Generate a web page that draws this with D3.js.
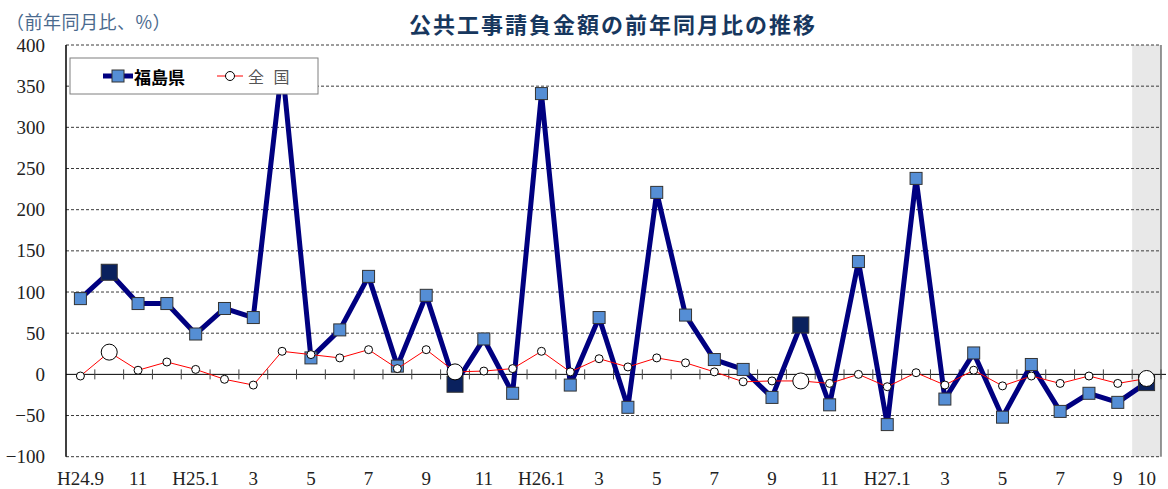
<!DOCTYPE html>
<html>
<head>
<meta charset="utf-8">
<script src="https://cdn.jsdelivr.net/npm/d3@7"></script>
<style>
  body { margin: 0; background: #fff; }
  svg { display: block; }
</style>
</head>
<body>
<div id="chart"></div>
<script>
// months H24.9 .. H27.10
let months = ["H24.9","10","11","12","H25.1","2","3","4","5","6","7","8","9","10","11","12",
              "H26.1","2","3","4","5","6","7","8","9","10","11","12",
              "H27.1","2","3","4","5","6","7","8","9","10"];

// 福島県
let fukushima = [92, 124, 86, 86, 49, 80, 69, 375, 20, 54, 119, 10, 96, -12, 43, -23,
                 341, -13, 69, -40, 221, 72, 18, 6, -28, 60, -37, 137,
                 -61, 238, -30, 26, -52, 12, -45, -23, -34, -10];

// 全国
let national = [-2, 27, 5, 15, 6, -6, -13, 28, 24, 20, 30, 7, 30, 3, 4, 7,
                28, 3, 19, 9, 20, 14, 3, -9, -8, -8, -11, 0,
                -15, 2, -13, 5, -14, -2, -11, -2, -11, -5];

let yTicks = [-100, -50, 0, 50, 100, 150, 200, 250, 300, 350, 400];

let width = 1168;
let height = 489;
let margin = {top: 45, bottom: 32.3, left: 66, right: 7};

let serif = "'Liberation Serif', 'DejaVu Serif', serif";
let cjk = "'Noto Sans CJK JP', 'Noto Sans', sans-serif";

let svg = d3.select("#chart")
    .append("svg")
    .attr("width", width)
    .attr("height", height);

let x = d3.scaleBand()
    .domain(d3.range(months.length))
    .range([margin.left, width - margin.right])
    .padding(0);

let y = d3.scaleLinear()
    .domain([-100, 400])
    .range([height - margin.bottom, margin.top]);

let cx = i => x(i) + x.bandwidth() / 2;
let isOct = i => months[i] === "10";

// shaded latest month
let last = months.length - 1;
svg.append("rect")
    .attr("x", x(last))
    .attr("y", y(400))
    .attr("width", x.bandwidth())
    .attr("height", y(-100) - y(400))
    .attr("fill", "#e8e8e8");

// gridlines
svg.append("g")
    .selectAll("line")
    .data(yTicks.filter(d => d !== 0))
    .join("line")
        .attr("x1", margin.left)
        .attr("x2", width - margin.right)
        .attr("y1", d => y(d))
        .attr("y2", d => y(d))
        .attr("stroke", "#3a3a3a")
        .attr("stroke-width", 1)
        .attr("stroke-dasharray", "3,2");

// plot borders
svg.append("line")
    .attr("x1", margin.left).attr("x2", margin.left)
    .attr("y1", y(400)).attr("y2", y(-100))
    .attr("stroke", "#000").attr("stroke-width", 1.5);
svg.append("line")
    .attr("x1", width - margin.right).attr("x2", width - margin.right)
    .attr("y1", y(400)).attr("y2", y(-100))
    .attr("stroke", "#555").attr("stroke-width", 1.2);

// zero line with month ticks
svg.append("line")
    .attr("x1", margin.left).attr("x2", width - 2)
    .attr("y1", y(0)).attr("y2", y(0))
    .attr("stroke", "#000").attr("stroke-width", 1);

svg.append("g")
    .selectAll("line")
    .data(d3.range(1, months.length + 1))
    .join("line")
        .attr("x1", i => i < months.length ? x(i) : width - margin.right)
        .attr("x2", i => i < months.length ? x(i) : width - margin.right)
        .attr("y1", y(0) - 5)
        .attr("y2", y(0) + 5)
        .attr("stroke", "#444")
        .attr("stroke-width", 1);

// y axis labels
svg.append("g")
    .attr("transform", `translate(${margin.left}, 0)`)
    .call(d3.axisLeft(y).tickValues(yTicks).tickSize(0).tickPadding(21))
    .call(g => g.select(".domain").remove())
    .selectAll("text")
        .attr("font-family", serif)
        .attr("font-size", "19px")
        .attr("fill", "#222");

// x axis labels
let shown = d3.range(months.length).filter(i => i % 2 === 0 || i === last);
svg.append("g")
    .attr("transform", `translate(0, ${y(-100)})`)
    .call(d3.axisBottom(x).tickValues(shown).tickFormat(i => months[i]).tickSize(0))
    .call(g => g.select(".domain").remove())
    .selectAll("text")
        .attr("y", 21.5)
        .attr("dy", "0.35em")
        .attr("font-family", serif)
        .attr("font-size", "19px")
        .attr("fill", "#222");

// 福島県 line
let line = d3.line()
    .x((d, i) => cx(i))
    .y(d => y(d));

svg.append("path")
    .datum(fukushima)
    .attr("d", line)
    .attr("fill", "none")
    .attr("stroke", "#000080")
    .attr("stroke-width", 5)
    .attr("stroke-linejoin", "round");

svg.append("g")
    .selectAll("rect")
    .data(fukushima)
    .join("rect")
        .attr("x", (d, i) => cx(i) - (isOct(i) ? 8 : 6))
        .attr("y", (d, i) => y(d) - (isOct(i) ? 8 : 6))
        .attr("width", (d, i) => isOct(i) ? 16 : 12)
        .attr("height", (d, i) => isOct(i) ? 16 : 12)
        .attr("fill", (d, i) => isOct(i) ? "#0a215e" : "#558ed5")
        .attr("stroke", "#333")
        .attr("stroke-width", 1);

// 全国 line
svg.append("path")
    .datum(national)
    .attr("d", line)
    .attr("fill", "none")
    .attr("stroke", "#ff0000")
    .attr("stroke-width", 1);

svg.append("g")
    .selectAll("circle")
    .data(national)
    .join("circle")
        .attr("cx", (d, i) => cx(i))
        .attr("cy", d => y(d))
        .attr("r", (d, i) => isOct(i) ? 8 : 4)
        .attr("fill", "#fff")
        .attr("stroke", "#000")
        .attr("stroke-width", 1);

// legend
let legend = svg.append("g");
legend.append("rect")
    .attr("x", 70).attr("y", 58)
    .attr("width", 248).attr("height", 36)
    .attr("fill", "#fff")
    .attr("stroke", "#7f7f7f")
    .attr("stroke-width", 1);
legend.append("line")
    .attr("x1", 103).attr("x2", 133).attr("y1", 76).attr("y2", 76)
    .attr("stroke", "#000080").attr("stroke-width", 5);
legend.append("rect")
    .attr("x", 112).attr("y", 70).attr("width", 12).attr("height", 12)
    .attr("fill", "#558ed5").attr("stroke", "#333");
legend.append("text")
    .attr("x", 134).attr("y", 76)
    .attr("dominant-baseline", "central")
    .attr("font-family", cjk)
    .attr("font-weight", "bold")
    .attr("font-size", "17px")
    .attr("fill", "#000")
    .text("福島県");
legend.append("line")
    .attr("x1", 217).attr("x2", 243).attr("y1", 76).attr("y2", 76)
    .attr("stroke", "#ff0000").attr("stroke-width", 1);
legend.append("circle")
    .attr("cx", 230).attr("cy", 76).attr("r", 4.5)
    .attr("fill", "#fff").attr("stroke", "#000");
legend.append("text")
    .attr("x", 248).attr("y", 76)
    .attr("dominant-baseline", "central")
    .attr("font-family", cjk)
    .attr("font-size", "16px")
    .attr("letter-spacing", "3px")
    .attr("fill", "#555")
    .text("全 国");

// title and unit
svg.append("text")
    .attr("x", 613).attr("y", 23)
    .attr("text-anchor", "middle")
    .attr("dominant-baseline", "central")
    .attr("font-family", cjk)
    .attr("font-weight", "bold")
    .attr("font-size", "22px")
    .attr("letter-spacing", "2px")
    .attr("fill", "#17375e")
    .text("公共工事請負金額の前年同月比の推移");

svg.append("text")
    .attr("x", 6).attr("y", 21)
    .attr("dominant-baseline", "central")
    .attr("font-family", cjk)
    .attr("font-size", "18px")
    .attr("letter-spacing", "0.5px")
    .attr("fill", "#4a6a8e")
    .text("（前年同月比、%）");
</script>
</body>
</html>
